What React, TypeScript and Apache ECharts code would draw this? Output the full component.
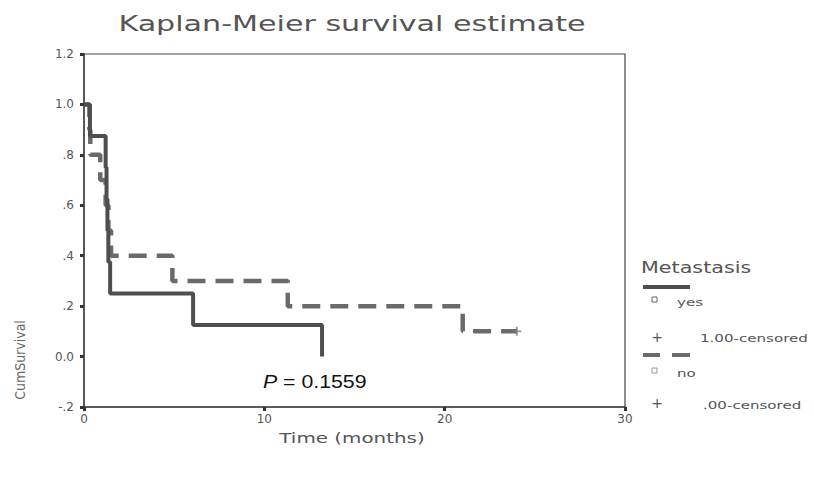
import React, { useEffect, useRef } from "react";
import * as echarts from "echarts";

const yesTimes = [0, 0.33, 1.2, 1.25, 1.3, 1.35, 1.45, 6.05, 13.2];
const yesSurv = [1.0, 0.875, 0.75, 0.625, 0.5, 0.375, 0.25, 0.125, 0];
const noTimes = [0, 0.3, 0.35, 0.9, 1.2, 1.35, 1.5, 4.9, 11.3, 21.0, 24.0];
const noSurv = [1.0, 0.9, 0.8, 0.7, 0.6, 0.5, 0.4, 0.3, 0.2, 0.1, 0.1];
const noCensorTimes = [24.0];
const noCensorSurv = [0.1];
const xTicks = [0, 10, 20, 30];
const yTickLabels: Record<string, string> = {
  "1.2": "1.2", "1": "1.0", "0.8": ".8", "0.6": ".6", "0.4": ".4", "0.2": ".2", "0": "0.0", "-0.2": "-.2",
};

const PLUS = "path://M4,0 L6,0 L6,4 L10,4 L10,6 L6,6 L6,10 L4,10 L4,6 L0,6 L0,4 L4,4 Z";
const FONT = "DejaVu Sans";
const WIDE = 1.37;

export default function App() {
  const ref = useRef<HTMLDivElement>(null);
  useEffect(() => {
    document.body.style.margin = "0";
    const chart = echarts.init(ref.current!, undefined, { renderer: "svg" });
    const yesData = yesTimes.map((t, i) => [t, yesSurv[i]]);
    const noData = noTimes.map((t, i) => [t, noSurv[i]]);
    const censor = noCensorTimes.map((t, i) => [t, noCensorSurv[i]]);
    const wideText = (x: number, y: number, text: string, size: number, align: string, sx = WIDE, fill = "#555") => ({
      type: "text", x, y, scaleX: sx,
      style: { text, font: `${size}px "${FONT}"`, fill, align, verticalAlign: "middle" },
    });
    chart.setOption({
      animation: false,
      backgroundColor: "#ffffff",
      grid: { left: 84, right: 189, top: 54, bottom: 75, show: true, borderColor: "#444", borderWidth: 1.2, containLabel: false },
      xAxis: {
        type: "value", min: 0, max: 30, interval: 10,
        splitLine: { show: false },
        axisLine: { show: true, onZero: false, lineStyle: { color: "#444", width: 1.5 } },
        axisTick: { show: true, length: 4, lineStyle: { color: "#333", width: 3 } },
        axisLabel: { color: "#555", fontSize: 12, fontFamily: FONT, margin: 6, formatter: (v: number) => (xTicks.includes(v) ? String(v) : "") },
      },
      yAxis: {
        type: "value", min: -0.2, max: 1.2, interval: 0.2,
        splitLine: { show: false },
        axisLine: { show: true, onZero: false, lineStyle: { color: "#444", width: 1.5 } },
        axisTick: { show: true, length: 4, lineStyle: { color: "#333", width: 3 } },
        axisLabel: {
          color: "#555", fontSize: 12, fontFamily: FONT, margin: 10,
          formatter: (v: number) => {
            const k = String(Math.round(v * 10) / 10);
            return yTickLabels[k] ?? k;
          },
        },
      },
      series: [
        {
          type: "line", name: "yes", step: "end", data: yesData, showSymbol: false,
          lineStyle: { color: "#4e4e4e", width: 4 }, z: 3,
        },
        {
          type: "line", name: "no", step: "end", data: noData, showSymbol: false,
          lineStyle: { color: "#6a6a6a", width: 4.5, type: [18, 10] }, z: 2,
        },
        {
          type: "scatter", name: "no censored", data: censor, symbol: PLUS, symbolSize: 9,
          itemStyle: { color: "#777" }, z: 4,
        },
      ],
      graphic: [
        wideText(352, 23, "Kaplan-Meier survival estimate", 22, "center"),
        wideText(352, 438, "Time (months)", 14, "center", 1.42),
        { type: "text", x: 20, y: 360, rotation: Math.PI / 2, scaleX: 0.9, style: { text: "CumSurvival", font: `14px "${FONT}"`, fill: "#666", align: "center", verticalAlign: "middle" } },
        {
          type: "text", x: 263, y: 381, scaleX: 1.12,
          style: {
            text: "{i|P} = 0.1559", font: `19px "Liberation Sans"`, fill: "#111", verticalAlign: "middle",
            rich: { i: { fontStyle: "italic", font: `italic 19px "Liberation Sans"`, fill: "#111" } },
          },
        },
        wideText(641, 268, "Metastasis", 15, "left", 1.38),
        { type: "line", shape: { x1: 643, y1: 287, x2: 690, y2: 287 }, style: { stroke: "#4e4e4e", lineWidth: 4 } },
        { type: "rect", shape: { x: 652, y: 297, width: 5, height: 5 }, style: { fill: "none", stroke: "#666", lineWidth: 1 } },
        wideText(677, 302, "yes", 11, "left"),
        { type: "text", x: 657, y: 337, style: { text: "+", font: `14px "${FONT}"`, fill: "#555", align: "center", verticalAlign: "middle" } },
        wideText(700, 338, "1.00-censored", 11, "left"),
        { type: "line", shape: { x1: 643, y1: 355, x2: 660, y2: 355 }, style: { stroke: "#6a6a6a", lineWidth: 4 } },
        { type: "line", shape: { x1: 672, y1: 355, x2: 690, y2: 355 }, style: { stroke: "#6a6a6a", lineWidth: 4 } },
        { type: "rect", shape: { x: 652, y: 368, width: 5, height: 5 }, style: { fill: "none", stroke: "#999", lineWidth: 1 } },
        wideText(677, 373, "no", 11, "left"),
        { type: "text", x: 657, y: 403, style: { text: "+", font: `14px "${FONT}"`, fill: "#555", align: "center", verticalAlign: "middle" } },
        wideText(703, 405, ".00-censored", 11, "left"),
      ],
    });
    return () => chart.dispose();
  }, []);
  return <div ref={ref} style={{ width: 814, height: 482 }} />;
}
